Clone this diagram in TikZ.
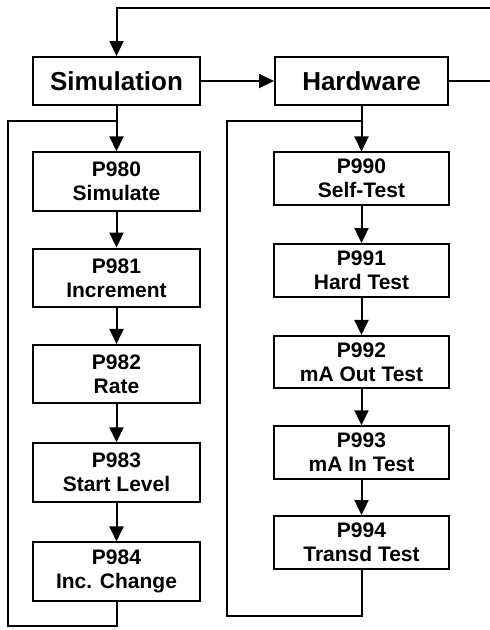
\documentclass[tikz,border=0pt]{standalone}
\usepackage{fontspec}
\setmainfont{Liberation Sans}
\usetikzlibrary{arrows.meta}
\begin{document}
\begin{tikzpicture}[x=1pt,y=-1pt,
  line width=2pt,
  arr/.style={-{Triangle[width=14pt,length=15pt]}},
  topbox/.style={draw,line width=2pt,inner sep=0pt,minimum height=48pt,font=\fontsize{26}{30}\selectfont\bfseries},
  lbox/.style={draw,line width=2pt,inner sep=0pt,minimum width=167pt,minimum height=58.5pt,align=center,font=\fontsize{21}{24}\selectfont\bfseries},
  rbox/.style={draw,line width=2pt,inner sep=0pt,minimum width=175pt,minimum height=52.5pt,align=center,font=\fontsize{21}{24}\selectfont\bfseries}]
\useasboundingbox (0,0) rectangle (490,630);
\node[topbox,minimum width=167pt] (sim) at (116.5,81) {Simulation};
\node[topbox,minimum width=173pt] (hw) at (361.5,81) {Hardware};
\node[lbox] (p980) at (116.5,181.5) {P980\\Simulate};
\node[lbox] (p981) at (116.5,277.8) {P981\\Increment};
\node[lbox] (p982) at (116.5,374.2) {P982\\Rate};
\node[lbox] (p983) at (116.5,472.5) {P983\\Start Level};
\node[lbox] (p984) at (116.5,571.7) {P984\\Inc. Change};
\node[rbox] (p990) at (361.5,178.7) {P990\\Self-Test};
\node[rbox] (p991) at (361.5,270.3) {P991\\Hard Test};
\node[rbox] (p992) at (361.5,362.2) {P992\\mA Out Test};
\node[rbox] (p993) at (361.5,452.5) {P993\\mA In Test};
\node[rbox] (p994) at (361.5,542.3) {P994\\Transd Test};
% coordinates
\coordinate (lj) at (116.5,120.7);
\coordinate (ltl) at (8,120.7);
\coordinate (lbl) at (8,625.7);
\coordinate (rj) at (361.5,120.7);
\coordinate (rtl) at (226.7,120.7);
\coordinate (rbl) at (226.7,616);
\coordinate (re) at (496,81);
\coordinate (rt) at (496,8);
% main arrows
\draw[arr] (sim) -- (hw);
\draw[arr] (hw.east) -- (re) -- (rt) -| (sim.north);
\draw[arr] (sim) -- (p980);
\draw[arr] (p980) -- (p981);
\draw[arr] (p981) -- (p982);
\draw[arr] (p982) -- (p983);
\draw[arr] (p983) -- (p984);
\draw[arr] (hw) -- (p990);
\draw[arr] (p990) -- (p991);
\draw[arr] (p991) -- (p992);
\draw[arr] (p992) -- (p993);
\draw[arr] (p993) -- (p994);
% loops
\draw (p984.south) |- (lbl) -- (ltl) -- (lj);
\draw (p994.south) |- (rbl) -- (rtl) -- (rj);
\end{tikzpicture}
\end{document}
